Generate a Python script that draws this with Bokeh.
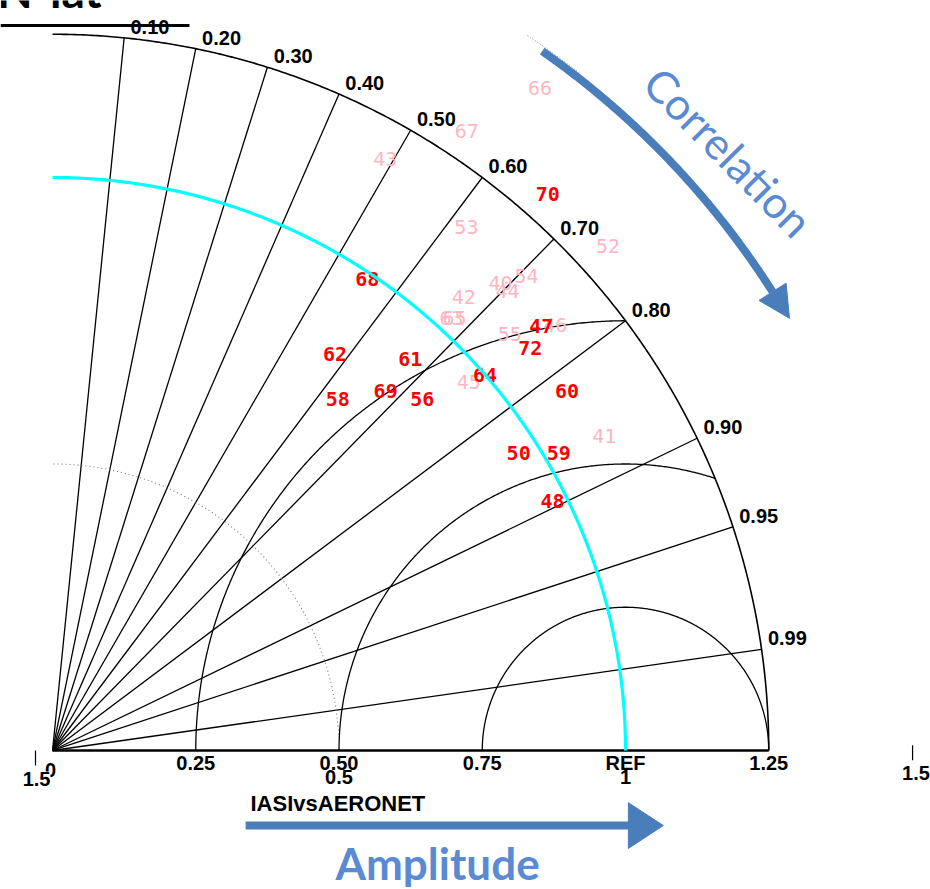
import numpy as np
from bokeh.plotting import figure
from bokeh.models import Range1d, Label
from bokeh.core.properties import value
from bokeh.embed import file_html
from bokeh.resources import INLINE

# ---------------- data ----------------
# red stations: normalised standard deviation and correlation
red_labels = ["68", "62", "61", "58", "69", "56", "64", "47", "72", "70", "60", "50", "59", "48"]
red_std = [0.99, 0.85, 0.925, 0.79, 0.855, 0.89, 1.00, 1.13, 1.09, 1.30, 1.095, 0.965, 1.025, 0.975]
red_corr = [0.555, 0.58, 0.675, 0.63, 0.68, 0.725, 0.755, 0.755, 0.765, 0.665, 0.82, 0.843, 0.862, 0.895]

# pink stations
pink_labels = ["66", "67", "43", "53", "52", "40", "54", "44", "42", "63", "65", "55", "46", "45", "41"]
pink_std = [1.435, 1.30, 1.185, 1.165, 1.31, 1.13, 1.17, 1.128, 1.068, 1.027, 1.03, 1.08, 1.15, 0.97, 1.108]
pink_corr = [0.593, 0.556, 0.49, 0.62, 0.74, 0.692, 0.707, 0.704, 0.672, 0.678, 0.681, 0.739, 0.763, 0.749, 0.869]

# diagram furniture
corr_ticks = [0.1, 0.2, 0.3, 0.4, 0.5, 0.6, 0.7, 0.8, 0.9, 0.95, 0.99]
corr_tick_labels = ["0.10", "0.20", "0.30", "0.40", "0.50", "0.60", "0.70", "0.80", "0.90", "0.95", "0.99"]
std_ticks = [0.25, 0.5, 0.75, 1.0, 1.25]
std_tick_labels = ["0.25", "0.50", "0.75", "REF", "1.25"]
std_ticks2 = [0.5, 1.0]
std_tick_labels2 = ["0.5", "1"]
rms_radii = [0.25, 0.5, 0.75]
ref_std = 1.0
max_std = 1.25
dotted_std = 0.5
case_name = "IASIvsAERONET"

# ---------------- figure ----------------
p = figure(width=930, height=889,
           x_range=Range1d(-0.0908, 1.5323), y_range=Range1d(-0.2426, 1.3089),
           x_axis_type=None, y_axis_type=None,
           output_backend="svg", toolbar_location=None, min_border=0)
p.grid.visible = False
p.outline_line_color = None
p.background_fill_color = "white"
p.border_fill_color = "white"

th = np.linspace(0, np.pi / 2, 400)

# radial correlation lines
for c in corr_ticks:
    a = np.arccos(c)
    p.line([0, max_std * np.cos(a)], [0, max_std * np.sin(a)], line_color="black", line_width=1.3)

# rms arcs centred at REF
for d in rms_radii:
    ph = np.linspace(0, np.pi, 600)
    xs = ref_std + d * np.cos(ph)
    ys = d * np.sin(ph)
    m = xs ** 2 + ys ** 2 <= max_std ** 2 + 1e-6
    p.line(xs[m], ys[m], line_color="black", line_width=1.3)

# dotted std arc
p.line(dotted_std * np.cos(th), dotted_std * np.sin(th), line_color="#777777",
       line_width=1.1, line_dash="1 3")

# outer arc and x axis
p.line(max_std * np.cos(th), max_std * np.sin(th), line_color="black", line_width=1.6)
p.line([0, max_std], [0, 0], line_color="black", line_width=2.6)

# station labels
p.text(x=[s * c for s, c in zip(pink_std, pink_corr)],
       y=[s * np.sqrt(1 - c * c) for s, c in zip(pink_std, pink_corr)],
       text=pink_labels, text_font=value("DejaVu Sans Mono"), text_font_size="20px",
       text_color="#ffb6c1", text_align="center", text_baseline="middle")
p.text(x=[s * c for s, c in zip(red_std, red_corr)],
       y=[s * np.sqrt(1 - c * c) for s, c in zip(red_std, red_corr)],
       text=red_labels, text_font=value("DejaVu Sans Mono"), text_font_size="20px",
       text_font_style="bold",
       text_color="#ff0000", text_align="center", text_baseline="middle")

# REF arc (cyan), drawn over labels
p.line(ref_std * np.cos(th), ref_std * np.sin(th), line_color="#00ffff", line_width=3.2)

# correlation labels
ang = np.arccos(np.array(corr_ticks))
p.text(x=max_std * np.cos(ang) + 0.011, y=max_std * np.sin(ang) + 0.007, text=corr_tick_labels,
       text_font=value("Liberation Sans"), text_font_size="20px", text_font_style="bold",
       text_color="black", text_align="left", text_baseline="bottom")

# std tick labels
p.text(x=[-0.0035], y=[-0.0349], text=["0"], text_font=value("Liberation Sans"),
       text_font_size="20px", text_font_style="bold", text_color="black",
       text_align="center", text_baseline="middle")
p.text(x=std_ticks, y=[-0.0227] * len(std_ticks), text=std_tick_labels,
       text_font=value("Liberation Sans"), text_font_size="20px", text_font_style="bold",
       text_color="black", text_align="center", text_baseline="middle")
p.text(x=std_ticks2, y=[-0.0462] * len(std_ticks2), text=std_tick_labels2,
       text_font=value("Liberation Sans"), text_font_size="20px", text_font_style="bold",
       text_color="black", text_align="center", text_baseline="middle")

# stray "1.5" axis ends of neighbouring panels
p.line([-0.0297, -0.0297], [0.0, -0.026], line_color="black", line_width=1.2)
p.add_layout(Label(x=-0.0279, y=-0.0489, text="1.5", text_font="Liberation Sans",
                   text_font_size="20px", text_font_style="bold", text_color="black",
                   text_align="center", text_baseline="middle", background_fill_color="white"))
p.line([1.501, 1.501], [0.009, -0.017], line_color="black", line_width=1.2)
p.text(x=[1.507], y=[-0.040], text=["1.5"], text_font=value("Liberation Sans"),
       text_font_size="20px", text_font_style="bold", text_color="black",
       text_align="center", text_baseline="middle")

# case name
p.text(x=[0.3455], y=[-0.0925], text=[case_name], text_font=value("Liberation Sans"),
       text_font_size="22px", text_font_style="bold", text_color="black",
       text_align="left", text_baseline="middle")

# cut-off slide title and underline
p.text(x=[0.0855], y=[1.2775], text=["N-lat"], text_font=value("Lato"), text_font_size="46px",
       text_font_style="bold", text_color="black", text_align="right", text_baseline="bottom")
p.line([-0.0908, 0.239], [1.2653, 1.2653], line_color="black", line_width=3.2)

# ---------------- slide annotations ----------------
arrow_col = "#4a7ebb"
txt_col = "#5a8ad2"

# amplitude arrow
ay = -0.131
p.line([0.337, 1.012], [ay, ay], line_color=arrow_col, line_width=8)
p.patch([1.005, 1.066, 1.005], [ay + 0.040, ay, ay - 0.040], fill_color=arrow_col, line_color=arrow_col)
p.text(x=[0.672], y=[-0.1972], text=["Amplitude"], text_font=value("Lato"), text_font_size="44px",
       text_font_style="bold", text_color=txt_col, text_align="center", text_baseline="middle")

# correlation arrow (arc outside the diagram)
Rr = 1.49
a0, a1 = np.deg2rad(55.0), np.deg2rad(32.5)
aa = np.linspace(a0, a1, 120)
p.line(Rr * np.cos(aa), Rr * np.sin(aa), line_color=arrow_col, line_width=8)
bx, by = Rr * np.cos(a1), Rr * np.sin(a1)
tx, ty = np.sin(a1), -np.cos(a1)
nx, ny = np.cos(a1), np.sin(a1)
p.patch([bx + 0.028 * nx, bx + 0.055 * tx, bx - 0.028 * nx],
        [by + 0.028 * ny, by + 0.055 * ty, by - 0.028 * ny],
        fill_color=arrow_col, line_color=arrow_col)
ad = np.linspace(np.deg2rad(56.4), np.deg2rad(52.0), 40)
p.line(1.498 * np.cos(ad), 1.498 * np.sin(ad), line_color="#888888", line_width=1, line_dash="1 2")
p.text(x=[1.18], y=[1.045], text=["Correlation"], angle=-0.79, text_font=value("Lato"),
       text_font_size="44px", text_color=txt_col, text_align="center", text_baseline="middle")

open("out.html", "w").write(file_html(p, INLINE))
